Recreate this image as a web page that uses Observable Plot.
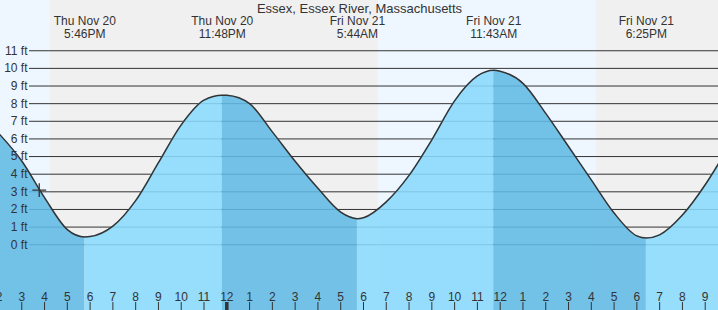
<!DOCTYPE html>
<html>
<head>
<meta charset="utf-8">
<script src="https://cdn.jsdelivr.net/npm/d3@7"></script>
<script src="https://cdn.jsdelivr.net/npm/@observablehq/plot@0.6"></script>
<style>
  html, body { margin: 0; padding: 0; background: #fff; }
  #chart svg { display: block; }
</style>
</head>
<body>
<div id="chart"></div>
<script>
// ---------- data ----------
const title = "Essex, Essex River, Massachusetts";

// hourly water level readings (ft)
const tideTimes = [
  "2025-11-20T14:00", "2025-11-20T15:00", "2025-11-20T16:00", "2025-11-20T17:00",
  "2025-11-20T18:00", "2025-11-20T19:00", "2025-11-20T20:00", "2025-11-20T21:00",
  "2025-11-20T22:00", "2025-11-20T23:00", "2025-11-21T00:00", "2025-11-21T01:00",
  "2025-11-21T02:00", "2025-11-21T03:00", "2025-11-21T04:00", "2025-11-21T05:00",
  "2025-11-21T06:00", "2025-11-21T07:00", "2025-11-21T08:00", "2025-11-21T09:00",
  "2025-11-21T10:00", "2025-11-21T11:00", "2025-11-21T12:00", "2025-11-21T13:00",
  "2025-11-21T14:00", "2025-11-21T15:00", "2025-11-21T16:00", "2025-11-21T17:00",
  "2025-11-21T18:00", "2025-11-21T19:00", "2025-11-21T20:00", "2025-11-21T21:00",
  "2025-11-21T22:00"
];
const tideHeights = [
  6.3, 4.75, 2.67, 0.86,
  0.46, 1.05, 2.5, 4.65,
  6.8, 8.2, 8.47, 8.0,
  6.4, 4.73, 3.2, 1.85,
  1.53, 2.43, 3.93, 5.95,
  8.16, 9.57, 9.84, 9.15,
  7.45, 5.57, 3.68, 1.8,
  0.5, 0.56, 1.68, 3.4,
  5.5
];

// high / low tides
const extremeTimes = ["2025-11-20T17:46", "2025-11-20T23:48", "2025-11-21T05:44", "2025-11-21T11:43", "2025-11-21T18:25"];
const extremeHeights = [0.44, 8.48, 1.48, 9.89, 0.38];
const extremeKinds = ["Low", "High", "Low", "High", "Low"];
const extremeDays = ["Thu Nov 20", "Thu Nov 20", "Fri Nov 21", "Fri Nov 21", "Fri Nov 21"];
const extremeClock = ["5:46PM", "11:48PM", "5:44AM", "11:43AM", "6:25PM"];

// day / night periods
const periodStarts = ["2025-11-20T14:04", "2025-11-20T16:15", "2025-11-21T06:40", "2025-11-21T16:14"];
const periodEnds   = ["2025-11-20T16:15", "2025-11-21T06:40", "2025-11-21T16:14", "2025-11-21T21:35"];
const periodKinds  = ["day", "night", "day", "night"];

// current level marker
const nowTime = "2025-11-20T15:46";
const nowHeight = 3.1;

// axis ticks
const ftTicks = [0, 1, 2, 3, 4, 5, 6, 7, 8, 9, 10, 11];
const hourTicks = [
  "2025-11-20T14:00", "2025-11-20T15:00", "2025-11-20T16:00", "2025-11-20T17:00",
  "2025-11-20T18:00", "2025-11-20T19:00", "2025-11-20T20:00", "2025-11-20T21:00",
  "2025-11-20T22:00", "2025-11-20T23:00", "2025-11-21T00:00", "2025-11-21T01:00",
  "2025-11-21T02:00", "2025-11-21T03:00", "2025-11-21T04:00", "2025-11-21T05:00",
  "2025-11-21T06:00", "2025-11-21T07:00", "2025-11-21T08:00", "2025-11-21T09:00",
  "2025-11-21T10:00", "2025-11-21T11:00", "2025-11-21T12:00", "2025-11-21T13:00",
  "2025-11-21T14:00", "2025-11-21T15:00", "2025-11-21T16:00", "2025-11-21T17:00",
  "2025-11-21T18:00", "2025-11-21T19:00", "2025-11-21T20:00", "2025-11-21T21:00"
];
const hourLabels = [
  "2", "3", "4", "5", "6", "7", "8", "9", "10", "11", "12", "1",
  "2", "3", "4", "5", "6", "7", "8", "9", "10", "11", "12", "1",
  "2", "3", "4", "5", "6", "7", "8", "9"
];
const midnightTicks = ["2025-11-21T00:00"];

const xDomain = ["2025-11-20T14:04", "2025-11-21T21:35"];
const yDomain = [-3.73, 13.85];

// ---------- build tables ----------
const T = s => new Date(s + ":00Z");

const pts = tideTimes.map((t, i) => ({t: T(t), h: tideHeights[i], ext: -1}))
  .concat(extremeTimes.map((t, i) => ({t: T(t), h: extremeHeights[i], ext: i})))
  .sort((a, b) => a.t - b.t);

const colors = {rising: "#8ad9fd", falling: "#61bae4"};
const segPts = [];
let seg = 0;
for (const p of pts) {
  segPts.push({...p, seg});
  if (p.ext >= 0) { seg++; segPts.push({...p, seg}); }
}
const n = extremeKinds.length;
const phaseOf = s => {
  if (s < n) return extremeKinds[s] === "Low" ? "falling" : "rising";
  return extremeKinds[n - 1] === "High" ? "falling" : "rising";
};
segPts.forEach(d => d.color = colors[phaseOf(d.seg)]);

const periods = periodStarts.map((s, i) => ({
  x1: T(s), x2: T(periodEnds[i]),
  color: periodKinds[i] === "day" ? "#eef7ff" : "#f0f0f0"
}));

const extremes = extremeTimes.map((t, i) => ({t: T(t), label: extremeDays[i] + "\n" + extremeClock[i]}));
const hours = hourTicks.map((t, i) => ({t: T(t), label: hourLabels[i]}));

const font = "'Liberation Sans', Arial, sans-serif";
const ink = "#333";

const chart = Plot.plot({
  width: 718,
  height: 310,
  margin: 0,
  style: {fontFamily: font, background: "#fff", overflow: "hidden"},
  x: {type: "utc", domain: xDomain.map(T), axis: null},
  y: {domain: yDomain, axis: null},
  color: {type: "identity"},
  marks: [
    Plot.rect(periods, {x1: "x1", x2: "x2", fill: "color"}),
    Plot.ruleY(ftTicks, {y: d => d, stroke: ink, strokeWidth: 1, insetLeft: 29}),
    Plot.areaY(segPts, {x: "t", y1: yDomain[0] - 2, y2: "h", z: "seg", fill: "color",
      fillOpacity: 0.88, curve: "monotone-x", clip: true}),
    Plot.lineY(pts, {x: "t", y: "h", stroke: ink, strokeWidth: 1.5, curve: "monotone-x", clip: true}),
    Plot.dot([{t: T(nowTime), h: nowHeight}], {x: "t", y: "h", symbol: "plus", r: 4.5, stroke: ink, strokeWidth: 1.3}),
    Plot.text(ftTicks, {y: d => d, text: d => `${d} ft`, frameAnchor: "left", dx: 27,
      textAnchor: "end", fontSize: 12, fill: ink}),
    Plot.text([title], {frameAnchor: "top", lineAnchor: "top", dy: 3, fontSize: 13, fill: ink}),
    Plot.text(extremes, {x: "t", text: "label", frameAnchor: "top", lineAnchor: "top", dy: 15,
      lineHeight: 1.08, fontSize: 12, fill: ink}),
    Plot.tickX(hours, {x: "t", stroke: ink, strokeWidth: 1, insetTop: 302}),
    Plot.tickX(midnightTicks.map(T), {x: d => d, stroke: ink, strokeWidth: 3.5, insetTop: 302}),
    Plot.text(hours, {x: "t", text: "label", frameAnchor: "bottom", lineAnchor: "top", dy: -18,
      fontSize: 12, fill: ink})
  ]
});

document.getElementById("chart").appendChild(chart);
</script>
</body>
</html>
